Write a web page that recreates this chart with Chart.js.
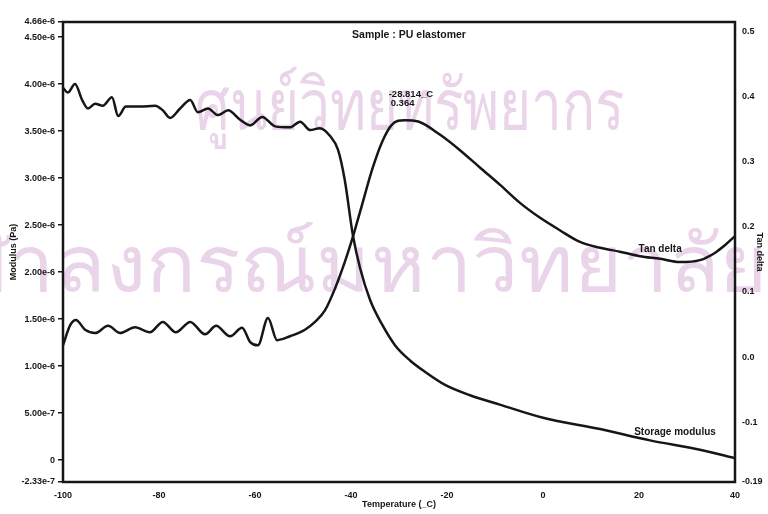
<!DOCTYPE html>
<html>
<head>
<meta charset="utf-8">
<script src="https://cdn.jsdelivr.net/npm/chart.js@4/dist/chart.umd.min.js"></script>
<style>
  html, body { margin: 0; padding: 0; background: #fff; }
  #wrap { width: 768px; height: 514px; }
</style>
</head>
<body>
<div id="wrap"><canvas id="c" width="768" height="514"></canvas></div>
<script>
// DMA scan of a PU elastomer: storage modulus and tan delta versus temperature
const modTemp = [-100, -99, -97.5, -96, -94.8, -93.3, -91.7, -89.8, -88.5, -86.9, -84, -80.8, -79.2, -77.7,
  -75.6, -73.5, -71.9, -69.8, -67.7, -65.6, -63.1, -61, -58.5, -55.8, -52.7, -50.6, -48.5, -46.5, -44.4,
  -42.7, -41.3, -39.6, -38.1, -36, -33.5, -30.8, -27.7, -24.6, -20.4, -15.2, -9, 0, 11.9, 22.3, 32.7, 40];
const modVal = [3.96e-6, 3.91e-6, 4.00e-6, 3.83e-6, 3.74e-6, 3.79e-6, 3.77e-6, 3.86e-6, 3.66e-6, 3.76e-6,
  3.76e-6, 3.77e-6, 3.72e-6, 3.64e-6, 3.74e-6, 3.83e-6, 3.70e-6, 3.74e-6, 3.67e-6, 3.72e-6,
  3.62e-6, 3.56e-6, 3.65e-6, 3.55e-6, 3.54e-6, 3.60e-6, 3.51e-6, 3.53e-6, 3.45e-6, 3.30e-6,
  2.98e-6, 2.39e-6, 2.04e-6, 1.70e-6, 1.44e-6, 1.22e-6, 1.06e-6, 0.94e-6, 0.80e-6, 0.69e-6,
  0.59e-6, 0.45e-6, 0.33e-6, 0.21e-6, 0.11e-6, 0.02e-6];

const tanTemp = [-100, -98.5, -97.3, -95.4, -93.3, -90.6, -88.1, -85, -81.9, -79.2, -76.5, -73.5, -70.4,
  -68.1, -65.2, -62.7, -61, -59.4, -57.3, -55.4, -52.7, -49.6, -47.5, -45.4, -43.3, -41.3, -39.8, -37.7,
  -35.6, -33.5, -31.5, -28.814, -26, -21.5, -17.3, -13.1, -9, -4.8, -0.6, 3.5, 7.7, 11.9, 16, 20.2, 24.4,
  28.5, 32.7, 35.8, 37.9, 40];
const tanVal = [0.018, 0.049, 0.057, 0.042, 0.037, 0.048, 0.037, 0.046, 0.038, 0.054, 0.038, 0.054, 0.035,
  0.048, 0.032, 0.045, 0.023, 0.018, 0.060, 0.026, 0.032, 0.042, 0.054, 0.072, 0.106, 0.146, 0.180, 0.234,
  0.288, 0.331, 0.357, 0.364, 0.362, 0.342, 0.318, 0.291, 0.265, 0.237, 0.214, 0.195, 0.177, 0.168, 0.162,
  0.155, 0.151, 0.146, 0.149, 0.160, 0.172, 0.186];

// tan delta peak
const peakTemp = -28.814;
const peakTan = 0.364;

// axis ranges and tick values
const xTicks = [-100, -80, -60, -40, -20, 0, 20, 40];
const modMin = -2.33e-7, modMax = 4.66e-6;
const modTicks = [modMin, 0, 5e-7, 1e-6, 1.5e-6, 2e-6, 2.5e-6, 3e-6, 3.5e-6, 4e-6, 4.5e-6, modMax];
const tanMin = -0.192, tanMax = 0.515;
const tanTicks = [tanMin, -0.1, 0, 0.1, 0.2, 0.3, 0.4, 0.5];

const INK = '#161616';
const FONT = '"Liberation Sans", Arial, sans-serif';
const tickFont = { family: FONT, size: 9, weight: 'bold' };

function pts(xs, ys) { return xs.map((t, i) => ({ x: t, y: ys[i] })); }

// library stamp printed faintly behind the plot
const watermark = {
  id: 'watermark',
  beforeDraw(chart) {
    const ctx = chart.ctx;
    ctx.save();
    ctx.fillStyle = 'rgba(190, 120, 190, 0.32)';
    ctx.textBaseline = 'alphabetic';
    ctx.textAlign = 'left';

    ctx.font = '72px "Noto Sans", "DejaVu Sans", sans-serif';
    const line1 = 'ศูนย์วิทยทรัพยากร';
    const sx1 = 430 / ctx.measureText(line1).width;
    ctx.save();
    ctx.translate(195, 130);
    ctx.scale(sx1, 1);
    ctx.fillText(line1, 0, 0);
    ctx.restore();

    ctx.font = '80px "Noto Sans", "DejaVu Sans", sans-serif';
    const head = 'จุฬา', rest = 'ลงกรณ์มหาวิทยาลัย';
    const sx2 = 713 / ctx.measureText(rest).width;
    const x0 = 55 - ctx.measureText(head).width * sx2;
    ctx.save();
    ctx.translate(x0, 292);
    ctx.scale(sx2, 1);
    ctx.fillText(head + rest, 0, 0);
    ctx.restore();

    ctx.restore();
  }
};

// plot frame, heading and curve labels
const decorations = {
  id: 'decorations',
  afterDatasetsDraw(chart) {
    const { ctx, chartArea: a, scales } = chart;
    ctx.save();
    ctx.strokeStyle = INK;
    ctx.lineWidth = 2.5;
    ctx.strokeRect(a.left, a.top, a.right - a.left, a.bottom - a.top);

    ctx.fillStyle = INK;
    ctx.textBaseline = 'middle';
    ctx.textAlign = 'center';
    ctx.font = 'bold 10.5px ' + FONT;
    ctx.fillText('Sample : PU elastomer', (a.left + a.right) / 2 + 10, a.top + 13);

    const px = scales.x.getPixelForValue(peakTemp);
    const py = scales.yTan.getPixelForValue(peakTan);
    ctx.textAlign = 'left';
    ctx.font = 'bold 9.5px ' + FONT;
    ctx.fillText(peakTemp.toFixed(3) + '_C', px - 16, py - 26);
    ctx.fillText(peakTan.toFixed(3), px - 14, py - 17);

    ctx.textAlign = 'center';
    ctx.font = 'bold 10px ' + FONT;
    ctx.fillText('Tan delta', scales.x.getPixelForValue(24.4), scales.yTan.getPixelForValue(0.166));
    ctx.fillText('Storage modulus', scales.x.getPixelForValue(27.5), scales.yMod.getPixelForValue(0.30e-6));
    ctx.restore();
  }
};

new Chart(document.getElementById('c'), {
  type: 'line',
  data: {
    datasets: [
      {
        label: 'Storage modulus',
        data: pts(modTemp, modVal),
        yAxisID: 'yMod',
        borderColor: INK,
        borderWidth: 2.5,
        pointRadius: 0,
        cubicInterpolationMode: 'monotone'
      },
      {
        label: 'Tan delta',
        data: pts(tanTemp, tanVal),
        yAxisID: 'yTan',
        borderColor: INK,
        borderWidth: 2.5,
        pointRadius: 0,
        cubicInterpolationMode: 'monotone'
      }
    ]
  },
  options: {
    responsive: false,
    animation: false,
    devicePixelRatio: 1,
    layout: { padding: { top: 22, left: 0, right: 0, bottom: 0 } },
    plugins: { legend: { display: false }, tooltip: { enabled: false } },
    scales: {
      x: {
        type: 'linear',
        min: -100,
        max: 40,
        afterBuildTicks: s => { s.ticks = xTicks.map(v => ({ value: v })); },
        afterFit: s => { s.height = 32; },
        grid: { display: false, drawTicks: false },
        border: { display: false },
        ticks: { font: tickFont, color: INK, padding: 8, maxRotation: 0, autoSkip: false, callback: v => String(v) },
        title: { display: true, text: 'Temperature (_C)', font: tickFont, color: INK, padding: { top: 0, bottom: 4 } }
      },
      yMod: {
        type: 'linear',
        position: 'left',
        min: modMin,
        max: modMax,
        afterBuildTicks: s => { s.ticks = modTicks.map(v => ({ value: v })); },
        afterFit: s => { s.width = 63; },
        grid: { display: true, drawOnChartArea: false, drawTicks: true, tickLength: 5, color: INK, lineWidth: 1.5 },
        border: { display: false },
        ticks: { font: tickFont, color: INK, padding: 3, autoSkip: false,
          callback: v => v === 0 ? '0' : Number(v).toExponential(2) },
        title: { display: true, text: 'Modulus (Pa)', font: tickFont, color: INK, padding: { top: 8, bottom: 0 } }
      },
      yTan: {
        type: 'linear',
        position: 'right',
        min: tanMin,
        max: tanMax,
        afterBuildTicks: s => { s.ticks = tanTicks.map(v => ({ value: v })); },
        afterFit: s => { s.width = 33; },
        grid: { display: false, drawTicks: false },
        border: { display: false },
        ticks: { font: tickFont, color: INK, padding: 7, autoSkip: false,
          callback: v => v === tanMin ? v.toFixed(2) : Number(v).toFixed(1) },
        title: { display: true, text: 'Tan delta', font: tickFont, color: INK, padding: { top: 3, bottom: 0 } }
      }
    }
  },
  plugins: [watermark, decorations]
});
</script>
</body>
</html>
